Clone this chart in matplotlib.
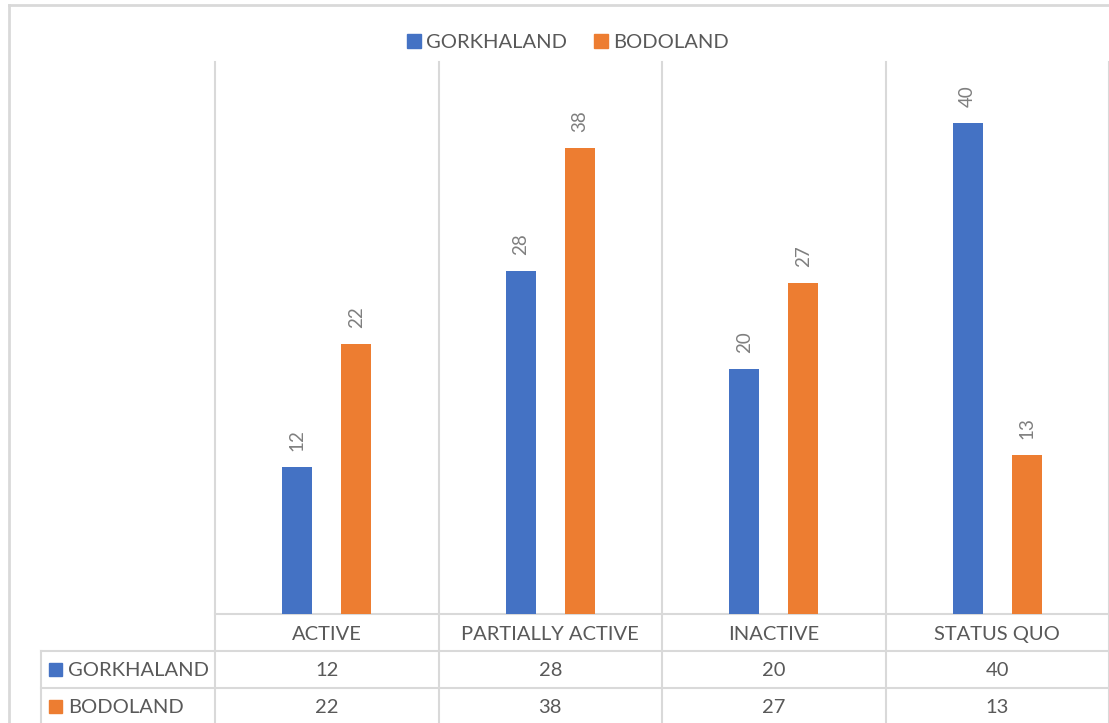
import matplotlib
matplotlib.use("Agg")
import matplotlib.pyplot as plt
import numpy as np

categories = ["ACTIVE", "PARTIALLY ACTIVE", "INACTIVE", "STATUS QUO"]
series_names = ["GORKHALAND", "BODOLAND"]
gorkhaland = [12, 28, 20, 40]
bodoland = [22, 38, 27, 13]
values = [gorkhaland, bodoland]
colors = ["#4472C4", "#ED7D31"]
grid_c = "#D9D9D9"
text_c = "#595959"
label_c = "#7F7F7F"

plt.rcParams["font.family"] = ["Lato", "DejaVu Sans"]

W, H = 1109, 723
fig = plt.figure(figsize=(W / 100, H / 100), dpi=100)

# overlay axis in pixel coordinates
ov = fig.add_axes([0, 0, 1, 1])
ov.set_xlim(0, W)
ov.set_ylim(H, 0)
ov.axis("off")

# chart axes
x0, x1, ytop, ybase = 215, 1109, 62, 614
ax = fig.add_axes([x0 / W, (H - ybase) / H, (x1 - x0) / W, (ybase - ytop) / H])
n = len(categories)
ax.set_xlim(0, n)
ax.set_ylim(0, 45)
ax.axis("off")
idx = np.arange(n)
bw = 0.134
off = 0.132
for s, (vals, c) in enumerate(zip(values, colors)):
    xs = idx + 0.5 + (off if s else -off)
    ax.bar(xs, vals, width=bw, color=c, zorder=3)
    for x, v in zip(xs, vals):
        ax.annotate(str(v), (x, v), xytext=(0, 11.5), textcoords="offset points",
                    rotation=90, ha="center", va="bottom", color=label_c, fontsize=13.5)

# outer border
ov.plot([8.5, 8.5], [5, H], color=grid_c, lw=2)
ov.plot([8.5, W], [5, 5], color=grid_c, lw=2)

# vertical category boundaries
cw = (x1 - x0) / n
for i in range(n + 1):
    xb = x0 + i * cw
    ov.plot([xb, xb], [ytop, H], color=grid_c, lw=1.5)
ov.plot([41, 41], [651, H], color=grid_c, lw=1.5)
# horizontal table lines
ov.plot([x0, x1], [ybase, ybase], color=grid_c, lw=1.5)
ov.plot([41, x1], [651, 651], color=grid_c, lw=1.5)
ov.plot([41, x1], [688, 688], color=grid_c, lw=1.5)

fs = 14.5
dy = 1.5  # text baseline tweak
for i, cat in enumerate(categories):
    ov.text(x0 + (i + 0.5) * cw, 633 + dy, cat, ha="center", va="center", color=text_c, fontsize=fs)
row_y = [669.5, 706]
for r, (name, vals, c) in enumerate(zip(series_names, values, colors)):
    yy = row_y[r]
    ov.add_patch(plt.Rectangle((49, yy - 6.5), 13, 13, color=c))
    ov.text(68, yy + dy, name, ha="left", va="center", color=text_c, fontsize=fs)
    for i, v in enumerate(vals):
        ov.text(x0 + (i + 0.5) * cw, yy + dy, str(v), ha="center", va="center", color=text_c, fontsize=fs)

# top legend
leg_y = 41
ov.add_patch(plt.Rectangle((407, leg_y - 7), 14, 14, color=colors[0]))
ov.text(426, leg_y + dy, series_names[0], ha="left", va="center", color=text_c, fontsize=fs)
ov.add_patch(plt.Rectangle((594, leg_y - 7), 14, 14, color=colors[1]))
ov.text(613, leg_y + dy, series_names[1], ha="left", va="center", color=text_c, fontsize=fs)

fig.savefig("out.png", dpi=100)
